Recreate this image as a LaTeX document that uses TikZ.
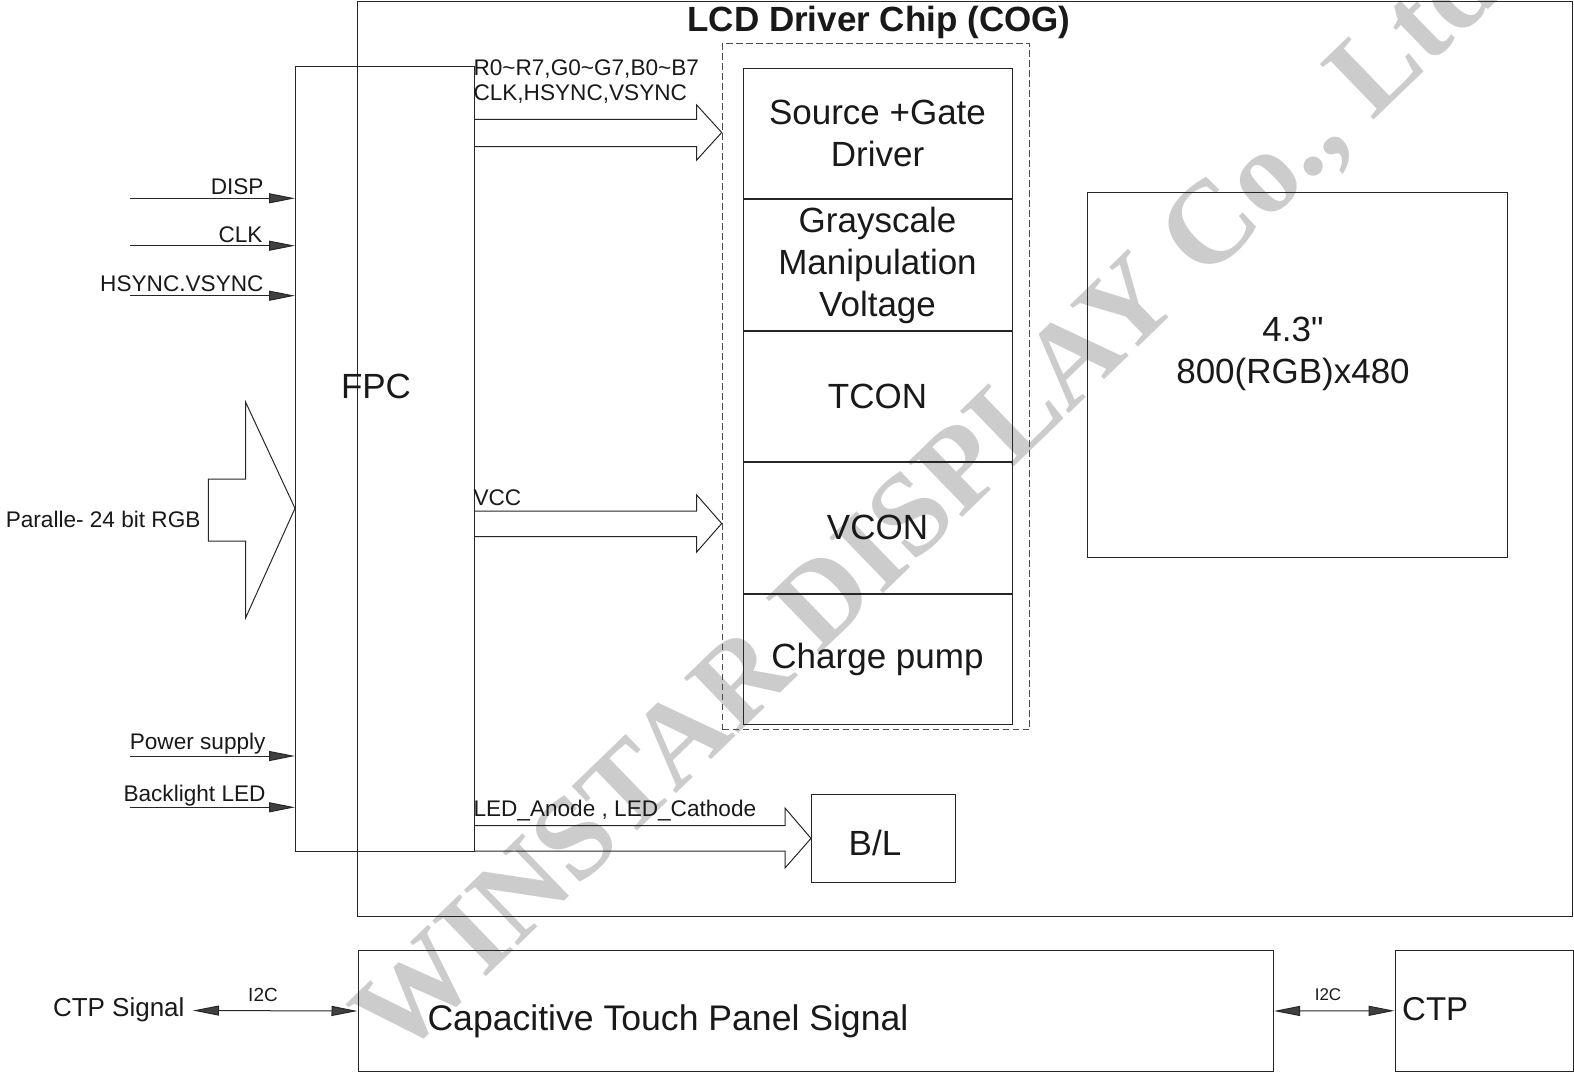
\documentclass[tikz,border=0pt]{standalone}
\usepackage{fontspec}
\setmainfont{Liberation Sans}[Ligatures=TeXOff]
\newfontfamily\wmfont{Liberation Serif}
\usetikzlibrary{positioning,arrows.meta}

\newcommand{\bigtxt}{\fontsize{17.5}{21}\selectfont}
\newcommand{\sigtxt}{\fontsize{11.3}{13}\selectfont}

\tikzset{
  blk/.style={draw=black!85, line width=0.5pt, inner sep=0pt, font=\bigtxt,
    text=black!90, align=center, anchor=north west},
  stackblk/.style={blk, minimum width=134.5pt, minimum height=65.2pt, anchor=north},
  txt/.style={inner sep=0pt, text=black!90, align=center},
  siglbl/.style={inner sep=0pt, text=black!90, font=\sigtxt},
  bus/.style={draw=black!85, line width=0.5pt},
  sig/.style={draw=black!85, line width=0.5pt,
    -{Triangle[length=13pt,width=5pt,fill=black!75]}},
  dsig/.style={draw=black!85, line width=0.5pt,
    {Triangle[length=13pt,width=5pt,fill=black!75]}-{Triangle[length=13pt,width=5pt,fill=black!75]}},
  wm/.style={inner sep=0pt, text=black!20, font=\wmfont\bfseries\fontsize{59}{59}\selectfont}
}

\begin{document}
\begin{tikzpicture}[x=0.5pt, y=-0.5pt, line width=0.5pt]
  \useasboundingbox (0,0) rectangle (1574,1071);
  % watermark
  \node[wm, rotate=44, anchor=base west] (wmark) at (398,1062) {WINSTAR DISPLAY Co., Ltd};

  % chip
  \node[blk, minimum width=607.5pt, minimum height=457.5pt] (chip) at (357,1) {};
  \node[txt, font=\bfseries\bigtxt, anchor=base] (chiptitle) at (879,31) {LCD Driver Chip (COG)};
  \node[blk, minimum width=89.5pt, minimum height=392.5pt] (fpc) at (295,66) {};
  \node[txt, font=\bigtxt] (fpclabel) at (376,386) {FPC};
  \node[blk, draw=black!70, dash pattern=on 3.3pt off 1.7pt,
    minimum width=153.5pt, minimum height=343pt] (drvzone) at (722,43) {};
  \node[stackblk] (src) at (877.5,68) {Source +Gate\\Driver};
  \node[stackblk, below=0pt of src] (gray) {Grayscale\\Manipulation\\Voltage};
  \node[stackblk, below=0pt of gray] (tcon) {TCON};
  \node[stackblk, below=0pt of tcon] (vcon) {VCON};
  \node[stackblk, below=0pt of vcon] (pump) {Charge pump};
  \node[blk, minimum width=210pt, minimum height=182.5pt] (lcd) at (1087,192) {};
  \node[txt, font=\bigtxt] (lcdlabel) at (1293,354) {4.3"\\800(RGB)x480};
  \node[blk, minimum width=72pt, minimum height=44pt] (bl) at (811,794) {};
  \node[txt, font=\bigtxt] (bllabel) at (875,843) {B/L};

  % buses out of the FPC
  \draw[bus] (474,119.3) -- (696.7,119.3) -- (696.7,105) -- (721.7,132.5)
    -- (696.7,160) -- (696.7,146.7) -- (474,146.7);
  \node[siglbl, anchor=base west] (rgbbus) at (473,75) {R0\textasciitilde R7,G0\textasciitilde G7,B0\textasciitilde B7};
  \node[siglbl, anchor=base west] (syncbus) at (473,100) {CLK,HSYNC,VSYNC};
  \draw[bus] (474,511) -- (696.7,511) -- (696.7,495) -- (721.7,523.5)
    -- (696.7,552) -- (696.7,536.7) -- (474,536.7);
  \node[siglbl, anchor=base west] (vccbus) at (473,505) {VCC};
  \draw[bus] (474,825.7) -- (785,825.7) -- (785,808) -- (811,838.4)
    -- (785,868) -- (785,851) -- (474,851);
  \node[siglbl, anchor=base west] (ledbus) at (473,816.7) {LED\_Anode , LED\_Cathode};

  % inputs into the FPC
  \coordinate (disp) at (130,198.3);
  \coordinate (clk) at (130,245.7);
  \coordinate (sync) at (130,295.7);
  \coordinate (pwr) at (130,756);
  \coordinate (led) at (130,807.3);
  \draw[sig] (disp) -- (disp -| fpc.west);
  \draw[sig] (clk) -- (clk -| fpc.west);
  \draw[sig] (sync) -- (sync -| fpc.west);
  \draw[sig] (pwr) -- (pwr -| fpc.west);
  \draw[sig] (led) -- (led -| fpc.west);
  \node[siglbl, anchor=base east] (displ) at (264,194.3) {DISP};
  \node[siglbl, anchor=base east] (clkl) at (263,242.3) {CLK};
  \node[siglbl, anchor=base east] (syncl) at (264,291) {HSYNC.VSYNC};
  \node[siglbl, anchor=base east] (pwrl) at (266,749.5) {Power supply};
  \node[siglbl, anchor=base east] (ledl) at (266,801) {Backlight LED};
  \draw[bus] (208.3,479) -- (245.7,479) -- (245.7,402.3) -- (295,508.3)
    -- (245.7,617.7) -- (245.7,541) -- (208.3,541) -- cycle;
  \node[siglbl, anchor=east] (rgbin) at (201,519) {Paralle- 24 bit RGB};

  % touch panel
  \node[blk, minimum width=457.75pt, minimum height=60.5pt] (ctps) at (357.5,950) {};
  \node[txt, font=\fontsize{17.8}{21}\selectfont, anchor=west] (ctpslabel) at (427,1021) {Capacitive Touch Panel Signal};
  \node[blk, minimum width=89pt, minimum height=60.75pt] (ctp) at (1394.5,949.5) {};
  \node[txt, font=\fontsize{16.5}{18}\selectfont, anchor=base west] (ctplabel) at (1401.7,1020) {CTP};
  \coordinate (ctpin) at (193,1010.5);
  \draw[dsig] (ctpin) -- (ctps.west);
  \draw[dsig] (ctps.east) -- (ctp.west);
  \node[txt, font=\fontsize{13}{15}\selectfont, anchor=base east] (ctpsig) at (185,1016.7) {CTP Signal};
  \node[txt, font=\fontsize{9.5}{11}\selectfont, anchor=base] (i2cl) at (263,1001.7) {I2C};
  \node[txt, font=\fontsize{8.5}{10}\selectfont, anchor=base] (i2cr) at (1328,1000) {I2C};
\end{tikzpicture}
\end{document}
